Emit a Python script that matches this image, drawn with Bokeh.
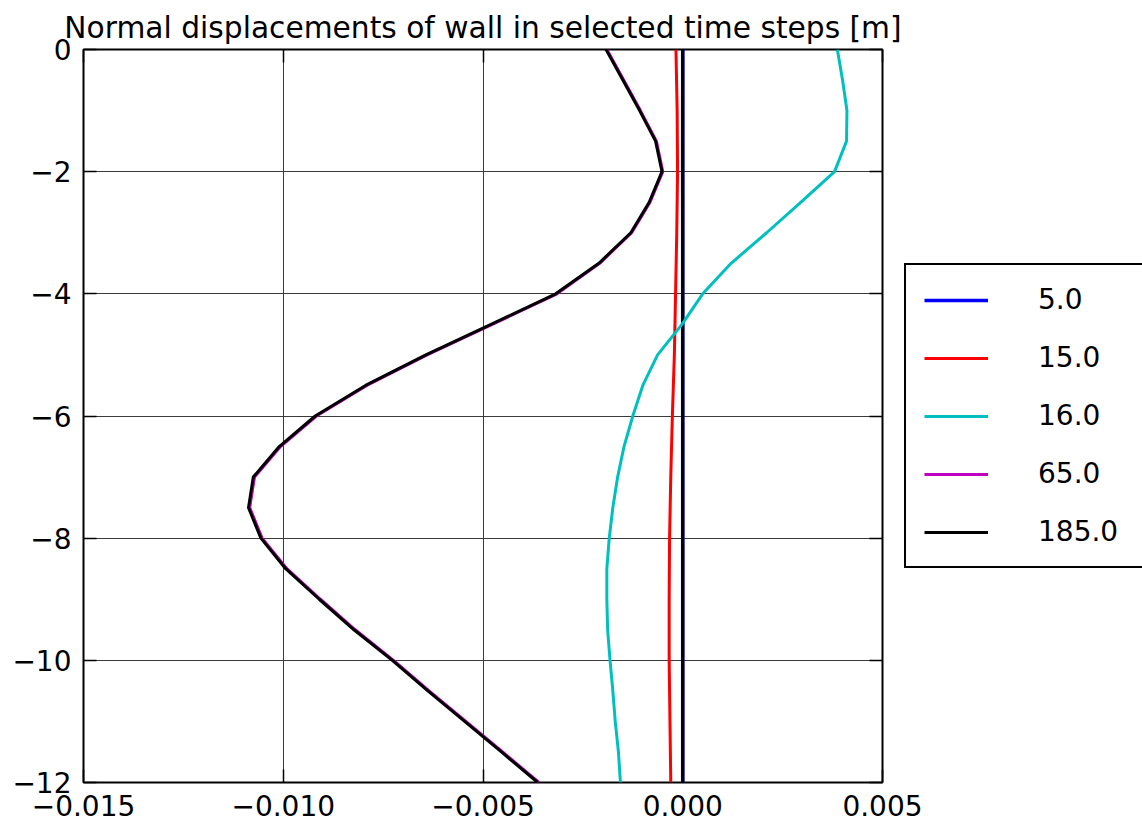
from bokeh.plotting import figure
from bokeh.models import (Range1d, LinearAxis, FixedTicker, CustomJSTickFormatter,
                          Legend, LegendItem)
from bokeh.embed import file_html
from bokeh.resources import INLINE

# ---- data ----
depth = [0.0, -0.5, -1.0, -1.5, -2.0, -2.5, -3.0, -3.5, -4.0, -4.5, -5.0, -5.5, -6.0,
         -6.5, -7.0, -7.5, -8.0, -8.5, -9.0, -9.5, -10.0, -10.5, -11.0, -11.5, -12.0]
depth_coarse = [0, -1, -2, -3, -4, -5, -6, -7, -8, -9, -10, -11, -12]

disp_5 = [0.0, 0.0, 0.0, 0.0, 0.0, 0.0, 0.0, 0.0, 0.0, 0.0, 0.0, 0.0, 0.0]
disp_15 = [-0.00017, -0.00014, -0.00013, -0.00015, -0.00018, -0.00021, -0.00026,
           -0.00030, -0.00033, -0.00034, -0.00034, -0.00032, -0.00030]
disp_16 = [0.00387, 0.00400, 0.00411, 0.00410, 0.00380, 0.00296, 0.00210, 0.00121,
           0.00050, -0.00002, -0.00063, -0.00100, -0.00125, -0.00147, -0.00163,
           -0.00175, -0.00184, -0.00190, -0.00190, -0.00188, -0.00182, -0.00175,
           -0.00169, -0.00161, -0.00156]
disp_65 = [-0.00190, -0.00148, -0.00106, -0.00066, -0.00050, -0.00082, -0.00128,
           -0.00208, -0.00315, -0.00477, -0.00640, -0.00791, -0.00917, -0.01007,
           -0.01072, -0.01084, -0.01053, -0.00991, -0.00907, -0.00820, -0.00724,
           -0.00635, -0.00543, -0.00451, -0.00360]
disp_185 = [-0.00192, -0.00150, -0.00108, -0.00068, -0.00052, -0.00084, -0.00130,
            -0.00210, -0.00318, -0.00480, -0.00643, -0.00794, -0.00920, -0.01010,
            -0.01075, -0.01087, -0.01056, -0.00994, -0.00910, -0.00823, -0.00727,
            -0.00638, -0.00546, -0.00454, -0.00363]
zero_line_x = [0.0, 0.0]
zero_line_y = [0.0, -12.0]

labels = ["5.0", "15.0", "16.0", "65.0", "185.0"]
colors = ["#0000ff", "#ff0000", "#00bfbf", "#bf00bf", "#000000"]

x_ticks = [-0.015, -0.010, -0.005, 0.0, 0.005]
y_ticks = [0, -2, -4, -6, -8, -10, -12]
title_text = "Normal displacements of wall in selected time steps [m]"

FONT = "DejaVu Sans"
FS = "28px"

p = figure(frame_width=799, frame_height=733, output_backend="svg", toolbar_location=None,
           x_range=Range1d(-0.015, 0.005), y_range=Range1d(-12, 0),
           min_border_left=83, min_border_top=49, min_border_right=259, min_border_bottom=43,
           x_axis_location=None, y_axis_location=None, title=title_text)
p.background_fill_color = "white"
p.border_fill_color = "white"
p.outline_line_color = "black"
p.outline_line_width = 2

p.title.align = "center"
p.title.text_font = FONT
p.title.text_font_size = "29.7px"
p.title.text_font_style = "normal"
p.title.text_color = "black"
p.title.standoff = 9
p.title.offset = 0

xfmt = CustomJSTickFormatter(code="return tick.toFixed(3).replace('-', '\\u2212');")
yfmt = CustomJSTickFormatter(code="return tick.toFixed(0).replace('-', '\\u2212');")
blankfmt = CustomJSTickFormatter(code="return '';")

def style_axis(ax, ticks, fmt, show_labels):
    ax.ticker = FixedTicker(ticks=ticks)
    ax.formatter = fmt
    ax.axis_line_color = None
    ax.major_tick_in = 13
    ax.major_tick_out = 0
    ax.major_tick_line_color = "black"
    ax.major_tick_line_width = 1.5
    ax.minor_tick_line_color = None
    ax.major_label_text_font = FONT
    ax.major_label_text_color = "black"
    ax.major_label_text_font_size = FS
    ax.major_label_standoff = 12 if show_labels else 0

xb = LinearAxis(); style_axis(xb, x_ticks, xfmt, True); p.add_layout(xb, "below")
yl = LinearAxis(); style_axis(yl, y_ticks, yfmt, True); p.add_layout(yl, "left")
xt = LinearAxis(); style_axis(xt, x_ticks, blankfmt, False); p.add_layout(xt, "above")
yr = LinearAxis(); style_axis(yr, y_ticks, blankfmt, False); p.add_layout(yr, "right")

p.xgrid.ticker = FixedTicker(ticks=x_ticks)
p.ygrid.ticker = FixedTicker(ticks=y_ticks)
for g in (p.xgrid, p.ygrid):
    g.grid_line_color = "#3a3a3a"
    g.grid_line_width = 1

LW = 3
r5 = p.line(disp_5, depth_coarse, line_color=colors[0], line_width=LW + 0.6)
p.line(zero_line_x, zero_line_y, line_color="black", line_width=LW)
r15 = p.line(disp_15, depth_coarse, line_color=colors[1], line_width=LW)
r16 = p.line(disp_16, depth, line_color=colors[2], line_width=LW)
r65 = p.line(disp_65, depth, line_color=colors[3], line_width=LW)
r185 = p.line(disp_185, depth, line_color=colors[4], line_width=LW)

legend = Legend(items=[LegendItem(label=l, renderers=[r]) for l, r in
                       zip(labels, [r5, r15, r16, r65, r185])],
                location=(-196, 214))
legend.margin = 0
legend.padding = 18
legend.spacing = 25
legend.glyph_width = 64
legend.glyph_height = 30
legend.label_height = 30
legend.label_width = 120
legend.label_standoff = 50
legend.label_text_font = FONT
legend.label_text_font_size = FS
legend.label_text_color = "black"
legend.border_line_color = "black"
legend.border_line_alpha = 1.0
legend.border_line_width = 2
legend.background_fill_color = "white"
legend.background_fill_alpha = 1.0
p.add_layout(legend, "right")

open("out.html", "w").write(file_html(p, INLINE))
